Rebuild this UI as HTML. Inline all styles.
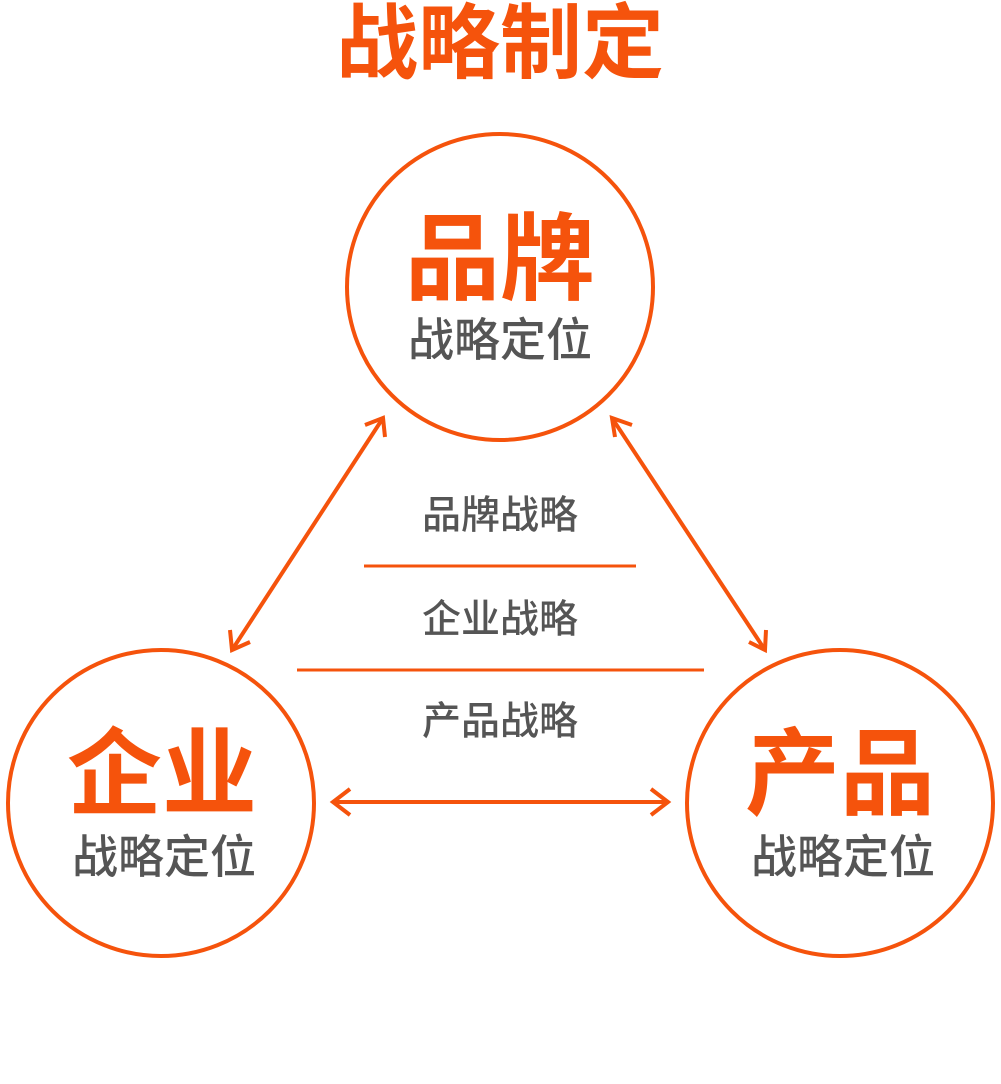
<!DOCTYPE html>
<html><head><meta charset="utf-8"><style>
html,body{margin:0;padding:0;background:#fff;}
svg{display:block;}
text{font-family:"Liberation Sans","Noto Sans CJK SC",sans-serif;}
</style></head><body>
<svg width="1001" height="1084" viewBox="0 0 1001 1084" xmlns="http://www.w3.org/2000/svg">
<g fill="none" stroke="#F5530C" stroke-width="4">
<circle cx="500" cy="287" r="153"/>
<circle cx="161" cy="803" r="153"/>
<circle cx="840" cy="803" r="153"/>
<line x1="383" y1="418" x2="232" y2="650"/>
<line x1="612" y1="418" x2="765" y2="650"/>
<line x1="333" y1="802" x2="668" y2="802"/>
<line x1="364" y1="566" x2="636" y2="566" stroke-width="3"/>
<line x1="297" y1="670" x2="704" y2="670" stroke-width="3"/>
<polyline points="365,425 383,418 385,437"/>
<polyline points="230,630 232,650 250,642"/>
<polyline points="615,437 612,418 632,425"/>
<polyline points="749,642 765,650 766,630"/>
<polyline points="350,789 333,802 350,815"/>
<polyline points="651,789 668,802 651,815"/>
</g>
<g text-anchor="middle" dominant-baseline="central">
<text x="500" y="44" font-size="82" font-weight="bold" fill="#F5530C">战略制定</text>
<text x="500" y="260" font-size="95" font-weight="bold" fill="#F5530C">品牌</text>
<text x="500" y="340" font-size="46" font-weight="500" fill="#555">战略定位</text>
<text x="162" y="775" font-size="95" font-weight="bold" fill="#F5530C">企业</text>
<text x="164" y="857" font-size="46" font-weight="500" fill="#555">战略定位</text>
<text x="840" y="775" font-size="95" font-weight="bold" fill="#F5530C">产品</text>
<text x="843" y="857" font-size="46" font-weight="500" fill="#555">战略定位</text>
<text x="500" y="516" font-size="39" font-weight="500" fill="#555">品牌战略</text>
<text x="500" y="620" font-size="39" font-weight="500" fill="#555">企业战略</text>
<text x="500" y="722" font-size="39" font-weight="500" fill="#555">产品战略</text>
</g>
</svg>
</body></html>
